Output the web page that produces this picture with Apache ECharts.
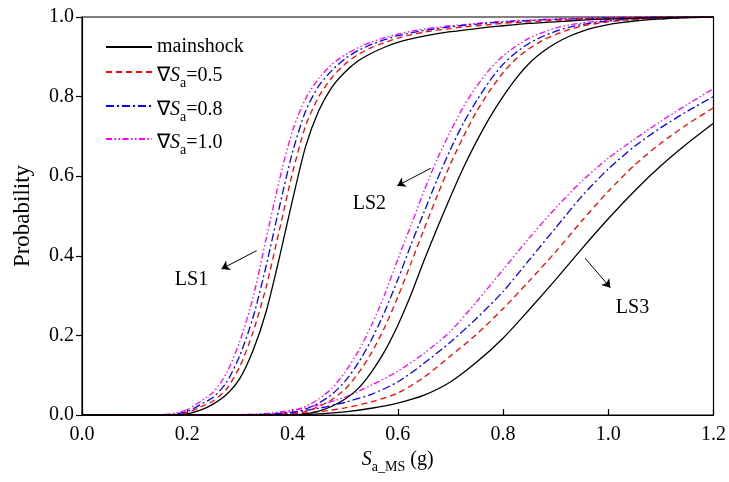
<!DOCTYPE html>
<html>
<head>
<meta charset="utf-8">
<script src="https://cdn.jsdelivr.net/npm/echarts@6/dist/echarts.min.js"></script>
<style>
  html, body { margin: 0; padding: 0; background: #ffffff; }
  #chart { width: 729px; height: 482px; }
</style>
</head>
<body>
<div id="chart"></div>
<script>
// ---- Data ----
const xFine = [0,0.025,0.05,0.075,0.1,0.125,0.15,0.175,0.2,0.225,0.25,0.275,0.3,0.325,0.35,0.375,0.4,0.425,0.45,0.475,0.5,0.525,0.55,0.575,0.6,0.625,0.65,0.675,0.7,0.725,0.75,0.775,0.8,0.825,0.85,0.875,0.9,0.925,0.95,0.975,1.0,1.025,1.05,1.075,1.1,1.125,1.15,1.175,1.2];
const xCoarse = [0,0.05,0.1,0.15,0.2,0.25,0.3,0.35,0.4,0.45,0.5,0.55,0.6,0.65,0.7,0.75,0.8,0.85,0.9,0.95,1.0,1.05,1.1,1.15,1.2];

// LS1 (on xFine)
const ls1Main = [0,0,0,0,0,0,0,0,0.003,0.012,0.028,0.052,0.092,0.162,0.26,0.395,0.54,0.675,0.765,0.824,0.862,0.89,0.909,0.924,0.936,0.945,0.952,0.958,0.963,0.967,0.971,0.975,0.978,0.981,0.984,0.986,0.988,0.99,0.992,0.994,0.995,0.996,0.997,0.998,0.999,0.999,1,1,1];
const ls1R05 = [0,0,0,0,0,0,0,0.001,0.006,0.02,0.036,0.066,0.122,0.208,0.322,0.464,0.608,0.727,0.8,0.848,0.882,0.906,0.923,0.936,0.947,0.955,0.962,0.967,0.971,0.975,0.978,0.981,0.984,0.986,0.988,0.99,0.992,0.993,0.995,0.996,0.997,0.998,0.999,0.999,1,1,1,1,1];
const ls1R08 = [0,0,0,0,0,0,0,0.002,0.009,0.026,0.045,0.083,0.15,0.245,0.375,0.522,0.66,0.764,0.827,0.866,0.895,0.916,0.931,0.943,0.953,0.96,0.966,0.971,0.975,0.979,0.982,0.985,0.987,0.989,0.991,0.993,0.994,0.995,0.996,0.997,0.998,0.999,0.999,1,1,1,1,1,1];
const ls1R10 = [0,0,0,0,0,0,0.001,0.004,0.014,0.034,0.058,0.106,0.185,0.295,0.443,0.59,0.714,0.795,0.846,0.881,0.905,0.923,0.937,0.948,0.957,0.964,0.97,0.974,0.978,0.981,0.984,0.987,0.989,0.991,0.992,0.994,0.995,0.996,0.997,0.998,0.998,0.999,0.999,1,1,1,1,1,1];

// LS2 (on xFine)
const ls2Main = [0,0,0,0,0,0,0,0,0,0,0,0,0,0,0,0,0,0.003,0.01,0.022,0.04,0.067,0.108,0.16,0.225,0.302,0.388,0.47,0.548,0.622,0.688,0.748,0.8,0.846,0.884,0.912,0.934,0.951,0.964,0.974,0.981,0.986,0.99,0.993,0.995,0.997,0.998,0.999,0.999];
const ls2R05 = [0,0,0,0,0,0,0,0,0,0,0,0,0,0,0,0.001,0.003,0.009,0.021,0.039,0.065,0.105,0.156,0.22,0.296,0.381,0.467,0.551,0.63,0.7,0.763,0.815,0.86,0.895,0.921,0.941,0.956,0.968,0.977,0.983,0.988,0.991,0.994,0.996,0.997,0.998,0.999,1,1];
const ls2R08 = [0,0,0,0,0,0,0,0,0,0,0,0,0,0,0.001,0.002,0.006,0.015,0.03,0.052,0.085,0.131,0.189,0.259,0.34,0.427,0.51,0.592,0.667,0.734,0.79,0.84,0.881,0.911,0.934,0.951,0.964,0.974,0.981,0.986,0.99,0.993,0.995,0.997,0.998,0.999,0.999,1,1];
const ls2R10 = [0,0,0,0,0,0,0,0,0,0,0,0,0,0.001,0.002,0.004,0.01,0.022,0.04,0.067,0.108,0.16,0.225,0.302,0.391,0.476,0.563,0.643,0.712,0.775,0.826,0.869,0.902,0.927,0.947,0.961,0.972,0.98,0.985,0.989,0.992,0.994,0.996,0.997,0.998,0.999,0.999,1,1];

// LS3 (on xCoarse)
const ls3Main = [0,0,0,0,0,0,0,0,0.001,0.003,0.008,0.017,0.03,0.05,0.083,0.133,0.193,0.265,0.34,0.418,0.493,0.563,0.626,0.682,0.733];
const ls3R05 = [0,0,0,0,0,0,0,0.001,0.003,0.008,0.018,0.033,0.055,0.095,0.148,0.203,0.267,0.337,0.41,0.488,0.562,0.628,0.683,0.73,0.772];
const ls3R08 = [0,0,0,0,0,0,0,0.002,0.007,0.017,0.032,0.052,0.083,0.13,0.183,0.243,0.31,0.39,0.47,0.55,0.618,0.675,0.722,0.763,0.8];
const ls3R10 = [0,0,0,0,0,0,0.001,0.004,0.012,0.025,0.045,0.075,0.11,0.155,0.21,0.285,0.365,0.445,0.52,0.588,0.645,0.693,0.738,0.78,0.82];

const seriesNames = ['mainshock', 'dSa=0.5', 'dSa=0.8', 'dSa=1.0'];
const legendLabels = ['mainshock', '0.5', '0.8', '1.0'];

// annotations (data coordinates)
const annText = ['LS1', 'LS2', 'LS3'];
const annTextPos = [[0.208, 0.34], [0.546, 0.53], [1.046, 0.27]];
const annArrowFrom = [[0.332, 0.413], [0.663, 0.62], [0.956, 0.394]];
const annArrowTo = [[0.265, 0.367], [0.599, 0.576], [1.004, 0.32]];

// ---- Styles ----
const FONT = "'Liberation Serif', 'Times New Roman', serif";
const styles = [
  { color: '#000000', type: 'solid', width: 1.3 },
  { color: '#ff0000', type: [6, 4], width: 1.3 },
  { color: '#0000ff', type: [8, 3, 2, 3], width: 1.3 },
  { color: '#ff00ff', type: [6, 2.5, 1.5, 2.5, 1.5, 2.5], width: 1.3 }
];

function pairs(xs, ys) { return xs.map((x, i) => [x, ys[i]]); }

const groups = [
  { xs: xFine, vals: [ls1Main, ls1R05, ls1R08, ls1R10] },
  { xs: xFine, vals: [ls2Main, ls2R05, ls2R08, ls2R10] },
  { xs: xCoarse, vals: [ls3Main, ls3R05, ls3R08, ls3R10] }
];

const series = [];
groups.forEach(g => {
  g.vals.forEach((ys, k) => {
    series.push({
      type: 'line',
      name: seriesNames[k],
      data: pairs(g.xs, ys),
      showSymbol: false,
      symbol: 'none',
      smooth: 0.25,
      lineStyle: styles[k],
      itemStyle: { color: styles[k].color },
      silent: true,
      z: 10 - k
    });
  });
});

// Annotation arrows + text
series.push({
  type: 'line',
  name: 'annotations',
  data: [],
  silent: true,
  itemStyle: { color: '#000' },
  markLine: {
    silent: true,
    symbol: ['none', 'arrow'],
    symbolSize: [8, 8],
    symbolOffset: 0,
    label: { show: false },
    itemStyle: { color: '#000' },
    lineStyle: { color: '#000', width: 1, type: 'solid' },
    emphasis: { disabled: true },
    data: annArrowFrom.map((f, i) => [{ coord: f }, { coord: annArrowTo[i] }])
  },
  markPoint: {
    silent: true,
    symbol: 'circle',
    symbolSize: 0,
    label: {
      show: true,
      position: 'inside',
      formatter: p => p.name,
      fontFamily: FONT,
      fontSize: 20,
      color: '#000'
    },
    data: annText.map((t, i) => ({ name: t, coord: annTextPos[i] }))
  }
});

const rich = {
  n: { fontFamily: FONT, fontSize: 20, color: '#000', lineHeight: 22, verticalAlign: 'top' },
  i: { fontFamily: FONT, fontSize: 20, fontStyle: 'italic', color: '#000', lineHeight: 22, verticalAlign: 'top' },
  sub: { fontFamily: FONT, fontSize: 14, color: '#000', lineHeight: 22, verticalAlign: 'top', padding: [10, 0, 0, 0] }
};

const legendTops = [32, 61, 95, 128];
const legends = seriesNames.map((nm, k) => ({
  data: [nm],
  left: 100,
  top: legendTops[k],
  orient: 'vertical',
  itemWidth: 46,
  itemHeight: 12,
  itemGap: 0,
  selectedMode: false,
  itemStyle: { opacity: 0, borderWidth: 0 },
  textStyle: k === 0
    ? { fontFamily: FONT, fontSize: 20, color: '#000' }
    : { fontFamily: FONT, fontSize: 20, color: '#000', rich: rich, padding: [10, 0, 0, 0] },
  formatter: k === 0
    ? () => legendLabels[0]
    : () => '{n|\u2207}{i|S}{sub|a}{n|=' + legendLabels[k] + '}'
}));

const chart = echarts.init(document.getElementById('chart'), null, { renderer: 'canvas' });
chart.setOption({
  backgroundColor: '#ffffff',
  animation: false,
  grid: {
    left: 82, right: 13, top: 17, bottom: 67,
    show: true, borderColor: '#000', borderWidth: 1.2, backgroundColor: 'transparent'
  },
  legend: legends,
  xAxis: {
    type: 'value',
    min: 0, max: 1.2, interval: 0.2,
    name: '{i|S}{sub|a_MS}{n| (g)}',
    nameLocation: 'middle',
    nameGap: 35,
    nameTextStyle: { rich: rich },
    axisLine: { show: true, lineStyle: { color: '#000', width: 1.2 } },
    axisTick: { show: true, inside: true, length: 6, lineStyle: { color: '#000', width: 1.2 } },
    splitLine: { show: false },
    axisLabel: {
      fontFamily: FONT, fontSize: 20, color: '#000', margin: 10,
      formatter: v => v.toFixed(1)
    }
  },
  yAxis: {
    type: 'value',
    min: 0, max: 1, interval: 0.2,
    name: 'Probability',
    nameLocation: 'middle',
    nameGap: 48,
    nameTextStyle: { fontFamily: FONT, fontSize: 23, color: '#000' },
    axisLine: { show: true, lineStyle: { color: '#000', width: 1.2 } },
    axisTick: { show: true, inside: false, length: 6, lineStyle: { color: '#000', width: 1.2 } },
    splitLine: { show: false },
    axisLabel: {
      fontFamily: FONT, fontSize: 20, color: '#000', margin: 8,
      formatter: v => v.toFixed(1)
    }
  },
  series: series
});
</script>
</body>
</html>
